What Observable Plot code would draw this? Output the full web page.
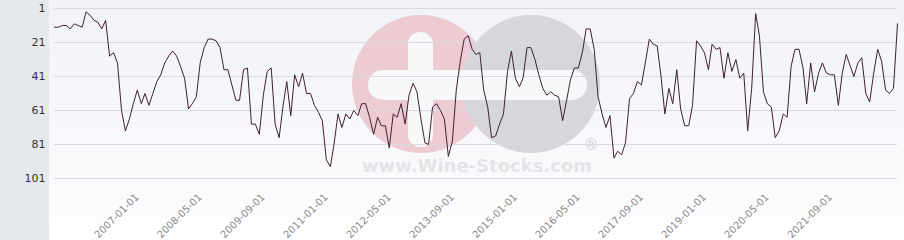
<!DOCTYPE html>
<html><head><meta charset="utf-8">
<script src="https://cdn.jsdelivr.net/npm/d3@7"></script>
<script src="https://cdn.jsdelivr.net/npm/@observablehq/plot@0.6"></script>
<style>
html,body{margin:0;padding:0;background:#fff;}
#wrap{position:relative;width:904px;height:240px;overflow:hidden;font-family:"DejaVu Sans",sans-serif;}
#side{position:absolute;left:0;top:0;width:49px;height:240px;background:#e6e9ec;}
#bg{position:absolute;left:49px;top:0;width:855px;height:240px;background:linear-gradient(#f1f3f7,#fbfbfd 200px,#ffffff);}
#wm{position:absolute;left:0;top:0;}
#chart{position:absolute;left:0;top:0;}
</style></head>
<body>
<div id="wrap">
<div id="side"></div>
<div id="bg"></div>
<svg id="wm" width="904" height="240" aria-hidden="true">
  <circle cx="421" cy="84" r="69" fill="#eccbd3"/>
  <circle cx="531" cy="84" r="69" fill="#d6d7db"/>
  <rect x="368" y="70" width="219" height="30" rx="15" fill="#f7f8fa"/>
  <rect x="408" y="32" width="25" height="115" rx="12" fill="#f7f8fa"/>
  <text x="477" y="172" text-anchor="middle" font-family="DejaVu Sans" font-weight="bold" font-size="18" fill="#e4e4e7">www.Wine-Stocks.com</text>
  <text x="591" y="150" text-anchor="middle" font-family="DejaVu Sans" font-size="15" fill="#d2d2d6">®</text>
</svg>
<div id="chart"></div>
</div>
<script>
const startMonth = "2005-04-01";
const ranks = [
  12,12,11,11,13,10,11,12,3,5,8,9,13,8,29,27,33,61,73,66,57,49,57,51,58,51,44,40,33,29,26,29,35,42,60,57,
  53,33,24,19,19,20,24,37,37,46,55,55,37,36,69,69,75,52,38,36,69,77,58,44,64,40,47,39,51,51,58,62,67,90,94,81,
  63,71,63,66,61,64,57,57,65,75,65,70,70,83,63,65,57,69,52,45,50,66,80,81,59,57,61,66,88,79,49,32,19,17,25,28,
  27,49,59,77,76,69,63,38,26,42,47,42,24,24,31,40,48,52,50,52,53,67,55,43,36,36,27,13,13,25,53,63,71,64,89,85,
  87,80,54,51,44,46,33,19,22,23,42,63,48,57,37,60,70,70,58,20,23,27,37,22,25,24,42,27,38,31,42,39,73,48,4,17,
  50,57,59,77,73,63,65,35,25,25,36,57,33,50,39,33,39,40,40,58,39,28,35,41,33,30,51,56,39,25,32,49,51,48,10
];
const tickLabels = ["2007-01-01","2008-05-01","2009-09-01","2011-01-01","2012-05-01","2013-09-01",
  "2015-01-01","2016-05-01","2017-09-01","2019-01-01","2020-05-01","2021-09-01"];
const yTicks = [1,21,41,61,81,101];

const start = new Date(startMonth);
const data = ranks.map((v, i) => ({date: d3.utcMonth.offset(start, i), rank: v}));
const tickDates = tickLabels.map(s => new Date(s));

const chart = Plot.plot({
  width: 904, height: 240,
  marginLeft: 54, marginRight: 7, marginTop: 8, marginBottom: 50,
  style: {background: "transparent", fontFamily: "DejaVu Sans", overflow: "visible"},
  x: {type: "utc", domain: [data[0].date, data[data.length - 1].date], label: null},
  y: {domain: [1, 101], range: [8, 178], label: null},
  marks: [
    Plot.gridY(yTicks, {stroke: "#d9dadf", strokeOpacity: 1}),
    Plot.axisY(yTicks, {tickSize: 0, tickPadding: 9, fontSize: 11, fill: "#333", label: null, tickFormat: d => String(d)}),
    Plot.axisX(tickDates, {tickSize: 0, tickPadding: 5, tickRotate: -45, label: null, tickFormat: d3.utcFormat("%Y-%m-%d"), fill: "#8a8a8a", fontSize: 10}),
    Plot.lineY(data, {x: "date", y: "rank", stroke: "#40202e", strokeWidth: 1})
  ]
});
document.getElementById("chart").appendChild(chart);
</script>
</body></html>
